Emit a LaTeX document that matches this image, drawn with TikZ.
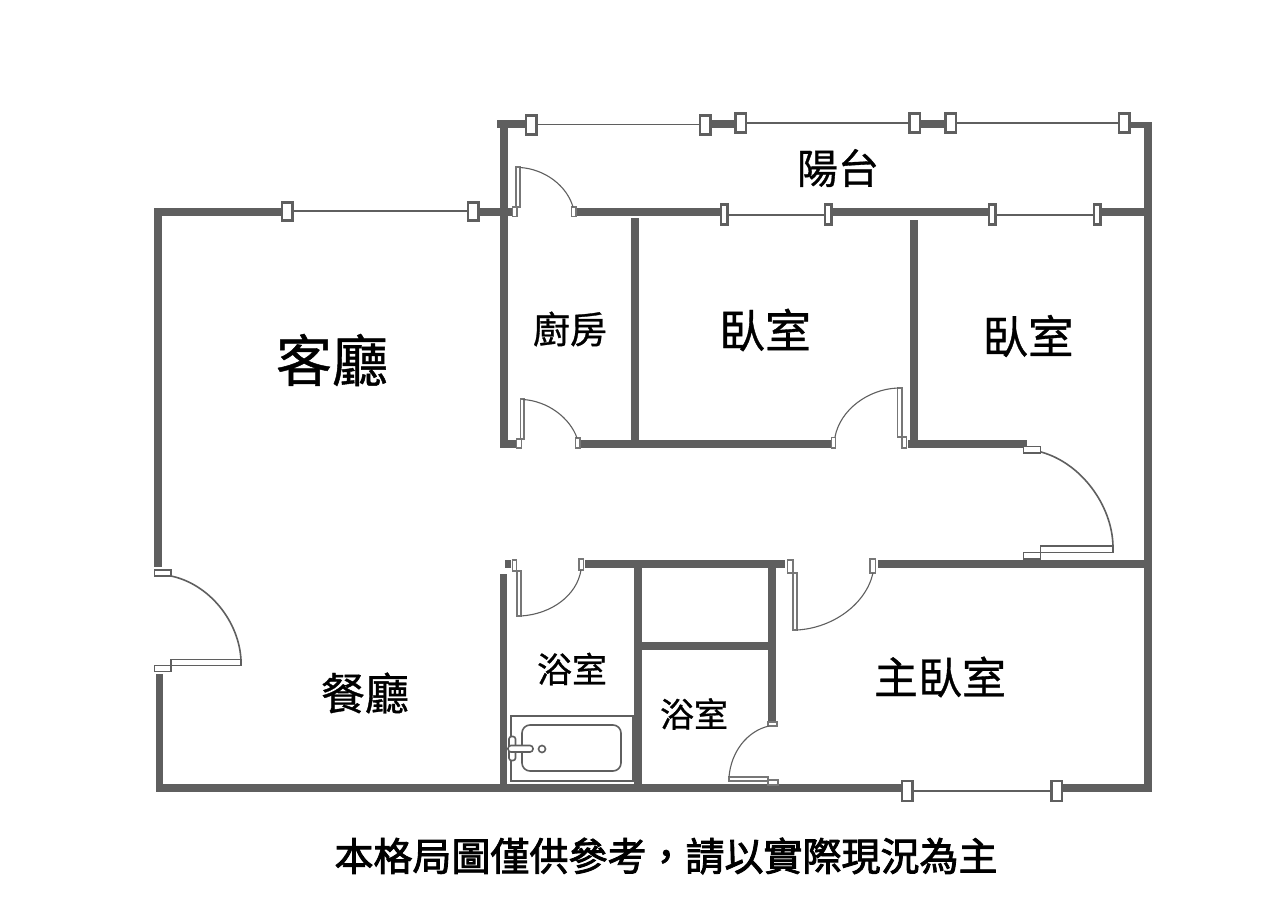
\documentclass[tikz,border=0pt]{standalone}
\usepackage{fontspec}
\setmainfont{Noto Sans CJK TC}
\newfontfamily\roomfont[FakeBold=0.8]{Noto Sans CJK TC}
\newfontfamily\notefont[FakeBold=2.2]{Noto Sans CJK TC}
\definecolor{wallgray}{HTML}{5F5F5F}
\tikzset{
  wallbar/.style={fill=wallgray,draw=none},
  winframe/.style={draw=wallgray,fill=white,line width=2.2pt},
  winline/.style={draw=wallgray,line width=1.5pt},
  doorpart/.style={draw=wallgray!85,fill=white,line width=1.2pt},
  bigdoor/.style={draw=wallgray,fill=white,line width=1.6pt},
  swing/.style={draw=wallgray,line width=1.1pt},
  bigswing/.style={draw=wallgray,line width=1.6pt},
  room/.style={text=black,inner sep=0pt,font=\roomfont\fontsize{#1}{#1}\selectfont},
}
\newcommand{\wlbar}[4]{\fill[wallbar] (#1,#2) rectangle (#3,#4);}
\newcommand{\winbox}[4]{\draw[winframe] (#1,#2) rectangle (#3,#4);}
\newcommand{\dpart}[4]{\draw[doorpart] (#1,#2) rectangle (#3,#4);}
\newcommand{\bdoor}[4]{\draw[bigdoor] (#1,#2) rectangle (#3,#4);}
\begin{document}
\begin{tikzpicture}[x=1pt,y=-1pt]
\useasboundingbox (0,0) rectangle (1276,920);
\fill[white] (0,0) rectangle (1276,920);
% balcony top
\wlbar{497}{120}{526}{128}
\wlbar{711}{120}{736}{128}
\wlbar{921}{120}{946}{128}
\wlbar{1130}{122}{1152}{128}
\draw[winline] (537,124.5) -- (699,124.5);
\draw[winline] (747,123) -- (909,123);
\draw[winline] (957,123) -- (1118,123);
\winbox{526}{115.5}{536.5}{134.5}
\winbox{700}{115.5}{710.5}{134.5}
\winbox{735.5}{113.5}{746}{132.5}
\winbox{909.5}{113.5}{920}{132.5}
\winbox{945.5}{113.5}{956}{132.5}
\winbox{1119}{113.5}{1129.5}{132.5}
% outer walls
\wlbar{500}{120}{508}{448}
\wlbar{1144}{124}{1152}{792}
\wlbar{154}{208}{281}{216}
\wlbar{154}{208}{162}{567}
\wlbar{156}{674}{163}{792}
\wlbar{156}{784}{902}{792}
\wlbar{1062}{784}{1152}{792}
% living window
\draw[winline] (293,211) -- (467,211);
\winbox{282}{202.5}{292.5}{220.5}
\winbox{468}{202.5}{478.5}{220.5}
\wlbar{479}{208}{512}{216}
% kitchen/bed top wall
\wlbar{577}{208}{721}{216}
\wlbar{831}{208}{989}{216}
\wlbar{1100}{208}{1147}{216}
\draw[winline] (728,215) -- (824,215);
\draw[winline] (996,215) -- (1093,215);
\winbox{721}{204.5}{727.5}{224.5}
\winbox{825}{204.5}{831.5}{224.5}
\winbox{989}{204.5}{995.5}{224.5}
\winbox{1094}{204.5}{1100.5}{224.5}
% inner verticals
\wlbar{631}{218}{639}{448}
\wlbar{910}{220}{918}{448}
\wlbar{500}{440}{516}{448}
\wlbar{580}{440}{832}{448}
\wlbar{908}{440}{1027}{448}
% hall bottom walls
\wlbar{878}{560}{1146}{568}
\wlbar{585}{560}{785}{568}
\wlbar{505}{560}{511}{568}
\wlbar{500}{574}{507}{788}
\wlbar{634}{564}{642}{786}
\wlbar{768}{564}{776}{722}
\wlbar{638}{642}{772}{650}
% kitchen top door
\dpart{516}{167}{520}{207}
\dpart{512.5}{207}{517}{216.5}
\dpart{571.5}{207}{576}{216.5}
\draw[swing] (520,167.5) .. controls (545,169) and (567,186) .. (573,207);
% kitchen bottom door
\dpart{520.5}{399}{524}{439}
\dpart{516.5}{439}{521.5}{448}
\dpart{575.5}{438}{580}{448}
\draw[swing] (523,399.5) .. controls (548,401) and (570,418) .. (577,438);
% bedroom door
\dpart{831.5}{437.5}{835.5}{448}
\dpart{897.5}{388}{902}{437}
\dpart{902}{437}{906.5}{448}
\draw[swing] (835,437) .. controls (840,410) and (868,389) .. (898,388);
% bedroom 2 big door
\bdoor{1023.5}{446.5}{1040.5}{453}
\bdoor{1040.5}{546}{1113}{552.5}
\bdoor{1023.5}{552.5}{1040.5}{559}
\draw[bigswing] (1041,452) .. controls (1081,463) and (1112,505) .. (1113,546);
% master door
\dpart{870}{559}{875.5}{573}
\dpart{787.5}{560}{793}{573}
\dpart{793}{573}{797}{630}
\draw[swing] (797,630) .. controls (833,628) and (866,604) .. (873,573);
% bath 1 door
\dpart{512.5}{560}{516.5}{571}
\dpart{517}{571}{521}{616}
\dpart{579}{559}{583.5}{570}
\draw[swing] (521,616) .. controls (552,614) and (577,595) .. (581,570);
% bath 2 door
\dpart{768}{722}{777}{726}
\dpart{729}{777}{768}{781}
\dpart{768}{780}{778}{785}
\draw[swing] (769,726) .. controls (747,731) and (731,752) .. (729,777);
% entrance door
\bdoor{154.5}{570}{171}{576}
\bdoor{171}{659.5}{241}{665.5}
\bdoor{154.5}{665.5}{171}{671.5}
\draw[bigswing] (171,576) .. controls (209,584) and (239,621) .. (241,660);
% bottom window
\draw[winline] (913,791) -- (1051,791);
\winbox{902}{781}{912.5}{801}
\winbox{1051.5}{781}{1062}{801}
% bathtub
\draw[draw=wallgray,line width=1.6pt] (511,716) rectangle (633,781);
\draw[draw=wallgray,line width=1.6pt,rounded corners=8pt] (522,725) rectangle (621,771);
\draw[draw=wallgray,fill=white,line width=1.6pt,rounded corners=2.5pt] (509,736.5) rectangle (515.5,760.5);
\draw[draw=wallgray,fill=white,line width=1.6pt,rounded corners=3pt] (508,745.5) rectangle (533,752);
\draw[draw=wallgray,line width=1.6pt] (542,749) circle (3.5);
% labels
\node[room=41] (balcony) at (838,168) {陽台};
\node[room=56] (living) at (332,360) {客廳};
\node[room=37] (kitchen) at (570,329) {廚房};
\node[room=46] (bedA) at (765,330) {臥室};
\node[room=45.5] (bedB) at (1028,336) {臥室};
\node[room=35] (bathA) at (572,669) {浴室};
\node[room=34] (bathB) at (694,714) {浴室};
\node[room=44] (dining) at (365,693) {餐廳};
\node[room=44] (master) at (940,677) {主臥室};
\node[text=black,inner sep=0pt,font=\notefont\fontsize{39}{39}\selectfont] (note) at (666,856) {本格局圖僅供參考，請以實際現況為主};
\end{tikzpicture}
\end{document}
